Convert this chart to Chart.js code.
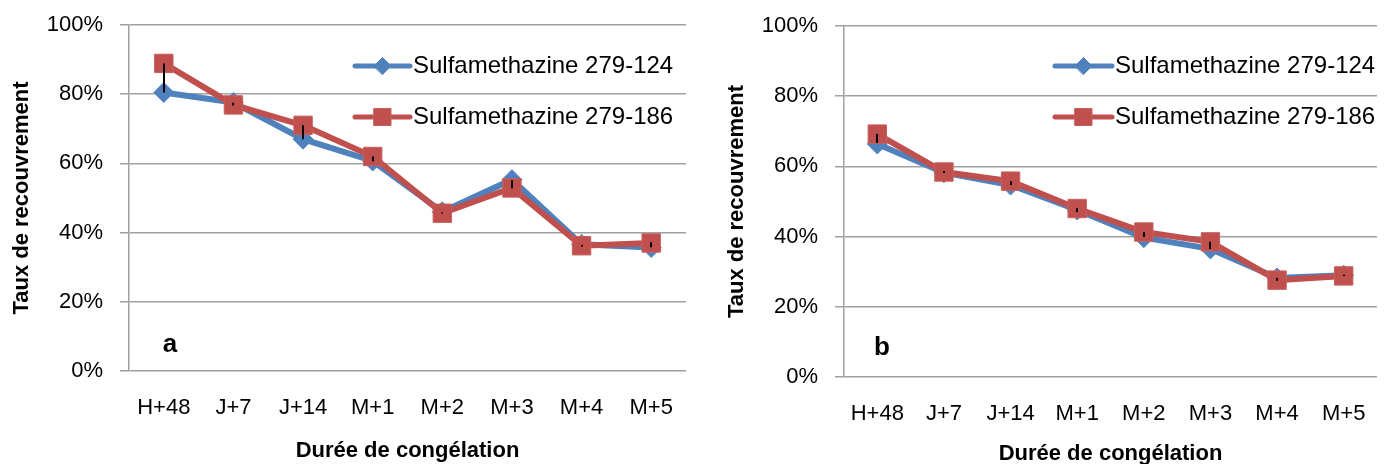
<!DOCTYPE html>
<html>
<head>
<meta charset="utf-8">
<script src="https://cdn.jsdelivr.net/npm/chart.js@4"></script>
<style>
html, body { margin: 0; padding: 0; background: #fff; }
#wrap { position: relative; width: 1391px; height: 464px; overflow: hidden; }
canvas { position: absolute; top: 0; }
</style>
</head>
<body>
<div id="wrap">
  <canvas id="chartA" width="700" height="464" style="left:0"></canvas>
  <canvas id="chartB" width="691" height="464" style="left:700px"></canvas>
</div>
<script>
// ---- data ----
const categories = ['H+48', 'J+7', 'J+14', 'M+1', 'M+2', 'M+3', 'M+4', 'M+5'];
const yTicks = [0, 20, 40, 60, 80, 100];
const seriesNames = ['Sulfamethazine 279-124', 'Sulfamethazine 279-186'];

// panel a
const a124 = [80.5, 77.6, 67.0, 60.7, 46.0, 55.3, 36.6, 35.7];
const a186 = [88.9, 76.9, 71.0, 62.0, 45.6, 52.9, 36.2, 37.0];
const aErrLow  = [80.5, 76.7, 67.0, 60.6, 45.5, 52.8, 36.0, 35.8];
const aErrHigh = [88.9, 77.5, 71.0, 62.0, 45.8, 55.1, 36.4, 37.2];

// panel b
const b124 = [66.4, 58.2, 54.7, 47.6, 39.7, 36.5, 28.2, 29.0];
const b186 = [69.2, 58.4, 55.8, 48.0, 41.3, 38.5, 27.6, 28.8];
const bErrLow  = [66.7, 58.1, 54.7, 47.0, 39.9, 36.5, 27.4, 28.8];
const bErrHigh = [69.2, 58.7, 55.8, 48.1, 41.3, 38.5, 28.2, 29.1];

// ---- style ----
const BLUE = '#4F81BD';
const RED = '#C0504D';
const GRID = '#a0a0a0';
const FONT = "'Liberation Sans', Arial, sans-serif";

Chart.defaults.font.family = FONT;
Chart.defaults.color = '#000';

// legend, panel letter and error bars
const panelExtras = {
    id: 'panelExtras',
    afterDatasetsDraw(chart, args, opts) {
        const ctx = chart.ctx;
        const x = chart.scales.x;
        const y = chart.scales.y;
        ctx.save();
        ctx.strokeStyle = '#000';
        ctx.lineWidth = 2;
        opts.errLow.forEach((lo, i) => {
            const px = Math.round(x.getPixelForValue(i));
            ctx.beginPath();
            ctx.moveTo(px, y.getPixelForValue(lo));
            ctx.lineTo(px, y.getPixelForValue(opts.errHigh[i]));
            ctx.stroke();
        });
        ctx.restore();
    },
    afterDraw(chart, args, opts) {
        const ctx = chart.ctx;
        chart.data.datasets.forEach((ds, row) => {
            const ly = opts.legendY[row];
            const mx = opts.legendX + opts.legendLine / 2;
            ctx.save();
            ctx.strokeStyle = ds.borderColor;
            ctx.lineWidth = 5;
            ctx.lineCap = 'round';
            ctx.beginPath();
            ctx.moveTo(opts.legendX, ly);
            ctx.lineTo(opts.legendX + opts.legendLine, ly);
            ctx.stroke();
            ctx.fillStyle = ds.pointBackgroundColor;
            ctx.strokeStyle = ds.pointBorderColor;
            ctx.lineWidth = ds.pointBorderWidth;
            Chart.helpers.drawPoint(ctx, {
                pointStyle: ds.pointStyle,
                radius: opts.legendRadius[row],
                borderWidth: ds.pointBorderWidth
            }, mx, ly);
            ctx.fillStyle = '#000';
            ctx.font = '24px ' + FONT;
            ctx.textBaseline = 'middle';
            ctx.textAlign = 'left';
            ctx.fillText(ds.label, opts.legendX + opts.legendLine + 3, ly);
            ctx.restore();
        });
        // panel letter
        ctx.save();
        ctx.fillStyle = '#000';
        ctx.font = 'bold 26px ' + FONT;
        ctx.textAlign = 'center';
        ctx.textBaseline = 'middle';
        ctx.fillText(opts.letter, opts.letterX, opts.letterY);
        ctx.restore();
    }
};

function makeChart(id, s124, s186, errLow, errHigh, cfg) {
    const canvas = document.getElementById(id);
    return new Chart(canvas, {
        type: 'line',
        data: {
            labels: categories,
            datasets: [
                {
                    label: seriesNames[0],
                    data: s124,
                    order: 1,
                    borderColor: BLUE,
                    borderWidth: 6,
                    pointStyle: 'rectRot',
                    pointRadius: 10,
                    pointBackgroundColor: BLUE,
                    pointBorderColor: BLUE,
                    pointBorderWidth: 1,
                    tension: 0
                },
                {
                    label: seriesNames[1],
                    data: s186,
                    order: 0,
                    borderColor: RED,
                    borderWidth: 6,
                    pointStyle: 'rect',
                    pointRadius: 13,
                    pointBackgroundColor: RED,
                    pointBorderColor: '#c95f5c',
                    pointBorderWidth: 1,
                    tension: 0
                }
            ]
        },
        options: {
            responsive: false,
            animation: false,
            layout: { padding: cfg.padding },
            plugins: {
                legend: { display: false },
                tooltip: { enabled: false },
                panelExtras: {
                    errLow: errLow,
                    errHigh: errHigh,
                    legendX: cfg.legendX,
                    legendLine: cfg.legendLine,
                    legendY: [66, 117],
                    legendRadius: [8.5, 12],
                    letter: cfg.letter,
                    letterX: cfg.letterX,
                    letterY: cfg.letterY
                }
            },
            scales: {
                x: {
                    offset: true,
                    grid: { display: false, drawTicks: false },
                    border: { display: false },
                    ticks: { font: { size: 22 }, padding: cfg.xPad, maxRotation: 0, autoSkip: false },
                    title: {
                        display: true,
                        text: 'Durée de congélation',
                        font: { size: 22, weight: 'bold' },
                        padding: { top: 0, bottom: cfg.xTitleBottom }
                    },
                    afterFit: s => { s.height = cfg.xHeight; }
                },
                y: {
                    min: 0,
                    max: 100,
                    afterBuildTicks: s => { s.ticks = yTicks.map(v => ({ value: v })); },
                    grid: { color: GRID, lineWidth: 1.5, tickLength: 9 },
                    border: { display: true, color: GRID, width: 1.5 },
                    ticks: { font: { size: 22 }, padding: 17, callback: v => v + '%' },
                    title: {
                        display: true,
                        text: 'Taux de recouvrement',
                        font: { size: 22, weight: 'bold' },
                        padding: { top: cfg.yTitleTop, bottom: 0 }
                    },
                    afterFit: s => {
                        s.width = cfg.yWidth;
                        s.paddingTop = 0;
                        s.paddingBottom = 0;
                    }
                }
            }
        },
        plugins: [panelExtras]
    });
}

makeChart('chartA', a124, a186, aErrLow, aErrHigh, {
    padding: { top: 25, right: 11, bottom: 0, left: 0 },
    yWidth: 129, xHeight: 93, xPad: 24, xTitleBottom: 0, yTitleTop: 9,
    legendX: 355, legendLine: 55,
    letter: 'a', letterX: 170, letterY: 345
});

makeChart('chartB', b124, b186, bErrLow, bErrHigh, {
    padding: { top: 26, right: 0, bottom: 0, left: 0 },
    yWidth: 144, xHeight: 87, xPad: 24, xTitleBottom: -3, yTitleTop: 24,
    legendX: 355, legendLine: 57,
    letter: 'b', letterX: 182, letterY: 348
});
</script>
</body>
</html>
